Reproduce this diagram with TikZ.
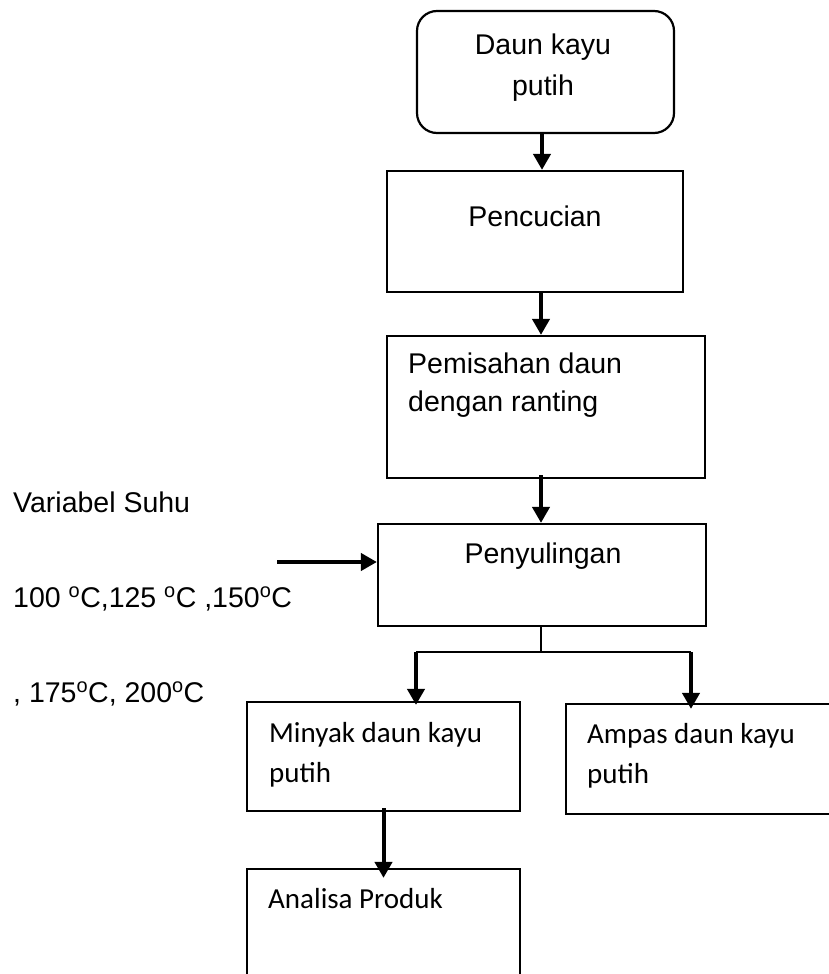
\documentclass[tikz,border=0pt]{standalone}
\usepackage{fontspec}
\setmainfont{Liberation Sans}
\newfontfamily\calibri{Carlito}
\usetikzlibrary{arrows.meta,positioning}
\tikzset{
  box/.style={draw, line width=2.2pt, inner sep=0pt},
  txt/.style={inner sep=0pt, font=\fontsize{28.5}{38}\selectfont},
  cal/.style={inner sep=0pt, font=\calibri\fontsize{29}{40}\selectfont},
  arr/.style={line width=4pt, -{Triangle[length=16pt,width=17pt]}},
  branch/.style={line width=2pt}
}

\begin{document}
\begin{tikzpicture}[x=1pt, y=-1pt]
		\useasboundingbox (0,0) rectangle (829,974);
		% boxes
		\node[box, rounded corners=20pt, minimum width=257pt, minimum height=122pt](daun) at (545.5,72){};
		\node[box, minimum width=296pt, minimum height=121pt](cuci) at (535,231.5){};
		\node[box, minimum width=318pt, minimum height=142pt](pisah) at (546,407){};
		\node[box, minimum width=328pt, minimum height=102pt](suling) at (542,575){};
		\node[box, minimum width=273pt, minimum height=109pt](minyak) at (383.5,756.5){};
		\node[box, minimum width=280pt, minimum height=110pt](ampas) at (706,759){};
		\node[box, minimum width=273pt, minimum height=130pt](analisa) at (383.5,934){};
		% texts
		\node[txt, anchor=base](daun1) at (543,55){Daun kayu};
		\node[txt, anchor=base](daun2) at (543,95){putih};
		\node[txt, anchor=base](cuci1) at (535,226){Pencucian};
		\node[txt, anchor=base west](pisah1) at (408,373){Pemisahan daun};
		\node[txt, anchor=base west](pisah2) at (408,411){dengan ranting};
		\node[txt, anchor=base](suling1) at (543,563){Penyulingan};
		\node[txt, anchor=base west](suhu1) at (13,512){Variabel Suhu};
		\node[txt, anchor=base west](suhu2) at (13,607){100 \textsuperscript{o}C,125 \textsuperscript{o}C ,150\textsuperscript{o}C};
		\node[txt, anchor=base west](suhu3) at (13,702){, 175\textsuperscript{o}C, 200\textsuperscript{o}C};
		\node[cal, anchor=base west](minyak1) at (269,742){Minyak daun kayu};
		\node[cal, anchor=base west](minyak2) at (269,782){putih};
		\node[cal, anchor=base west](ampas1) at (587,743){Ampas daun kayu};
		\node[cal, anchor=base west](ampas2) at (587,783){putih};
		\node[cal, anchor=base west](analisa1) at (268,908){Analisa Produk};
		% connectors
		\coordinate(in) at (277,562);
		\coordinate(split) at (541,652);
		\coordinate(jl) at (416,652);
		\coordinate(jr) at (691,652);
		\draw[arr]([xshift=-3.5pt]daun.south) -- ([xshift=-3.5pt]daun.south |- cuci.north);
		\draw[arr]([xshift=6pt]cuci.south) -- ([xshift=6pt]cuci.south |- pisah.north);
		\draw[arr]([xshift=-5pt,yshift=4pt]pisah.south) -- ([xshift=-5pt]pisah.south |- suling.north);
		\draw[arr](in) -- (in -| suling.west);
		\draw[branch](suling.south -| split) -- (split);
		\draw[branch](jl) -- (jr);
		\draw[arr](jl) -- ([yshift=-4pt]jl |- minyak.north);
		\draw[arr](jr) -- ([yshift=-6pt]jr |- ampas.north);
		\draw[arr]([yshift=4pt]minyak.south) -- ([yshift=-10pt]minyak.south |- analisa.north);
	\end{tikzpicture}
\end{document}
